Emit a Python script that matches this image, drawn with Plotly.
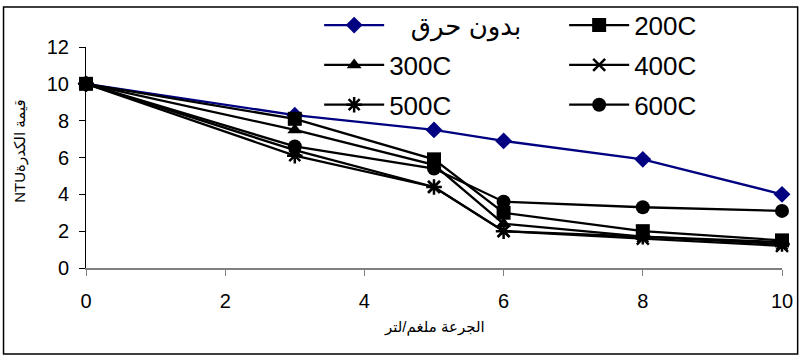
import plotly.graph_objects as go

# Coagulant dose (mg/L)
dose = [0, 3, 5, 6, 8, 10]

# Turbidity (NTU) for each treatment
series_names = ["\u00a0\u00a0\u00a0بدون حرق", "200C", "300C", "400C", "500C", "600C"]
no_burn = [10, 8.3, 7.5, 6.9, 5.9, 4.0]
c200 = [10, 8.1, 5.9, 3.0, 2.0, 1.5]
c300 = [10, 7.5, 5.6, 2.4, 1.7, 1.4]
c400 = [10, 6.4, 4.4, 2.0, 1.6, 1.2]
c500 = [10, 6.1, 4.4, 2.0, 1.7, 1.3]
c600 = [10, 6.6, 5.4, 3.6, 3.3, 3.1]

y_ticks = [0, 2, 4, 6, 8, 10, 12]
x_ticks = [0, 2, 4, 6, 8, 10]

font_family = "Liberation Sans, Arial, DejaVu Sans, sans-serif"

styles = [
    dict(color="#000080", symbol="diamond", size=13, legend="legend"),
    dict(color="black", symbol="square", size=14, legend="legend2"),
    dict(color="black", symbol="triangle-up", size=13, legend="legend"),
    dict(color="black", symbol="x-thin", size=12, legend="legend2"),
    dict(color="black", symbol="asterisk", size=13, legend="legend"),
    dict(color="black", symbol="circle", size=14, legend="legend2"),
]
all_values = [no_burn, c200, c300, c400, c500, c600]

# draw the 200C series last so its squares sit on top
draw_order = [0, 2, 3, 4, 5, 1]

fig = go.Figure()
for i in draw_order:
    name, vals, st = series_names[i], all_values[i], styles[i]
    thin = st["symbol"] in ("x-thin", "asterisk")
    fig.add_trace(go.Scatter(
        x=dose, y=vals, name=name, mode="lines+markers",
        legend=st["legend"], legendgroup=name, legendrank=i + 1,
        line=dict(color=st["color"], width=2.3),
        marker=dict(symbol=st["symbol"], size=st["size"], color=st["color"],
                    line=dict(color=st["color"], width=2.5 if thin else 0)),
        cliponaxis=False,
    ))

legend_common = dict(
    orientation="v", yanchor="top", y=1.205, xanchor="left",
    itemwidth=60, tracegroupgap=3,
    font=dict(size=26, family=font_family), bgcolor="rgba(0,0,0,0)",
    itemsizing="trace",
)

fig.update_layout(
    width=802, height=360,
    margin=dict(l=86, r=20, t=47, b=92, autoexpand=False),
    paper_bgcolor="white", plot_bgcolor="white",
    font=dict(family=font_family, color="black"),
    showlegend=True,
    legend=dict(legend_common, x=0.335),
    legend2=dict(legend_common, x=0.687),
    xaxis=dict(
        range=[0, 10], tickvals=x_ticks, ticks="outside", ticklen=6,
        tickcolor="#808080", showline=True, linecolor="#808080", linewidth=2,
        showgrid=False, zeroline=False, tickfont=dict(size=20), ticklabelstandoff=8,
    ),
    yaxis=dict(
        range=[0, 12], tickvals=y_ticks, ticks="outside", ticklen=6,
        tickcolor="black", showline=True, linecolor="black", linewidth=1,
        showgrid=False, zeroline=False, tickfont=dict(size=20), ticklabelstandoff=6,
    ),
    annotations=[
        dict(text="الجرعة ملغم/لتر", xref="paper", yref="paper", x=0.5, y=-0.267,
             showarrow=False, font=dict(size=15), xanchor="center", yanchor="middle"),
        dict(text="NTUقيمة الكدرة", xref="paper", yref="paper", x=-0.095, y=0.53,
             showarrow=False, textangle=-90, font=dict(size=15),
             xanchor="center", yanchor="middle"),
    ],
    shapes=[
        dict(type="rect", xref="paper", yref="paper", x0=-0.1185, x1=1.0225,
             y0=-0.389, y1=1.181, line=dict(color="black", width=1.5)),
    ],
)

fig.write_html("out.html")
